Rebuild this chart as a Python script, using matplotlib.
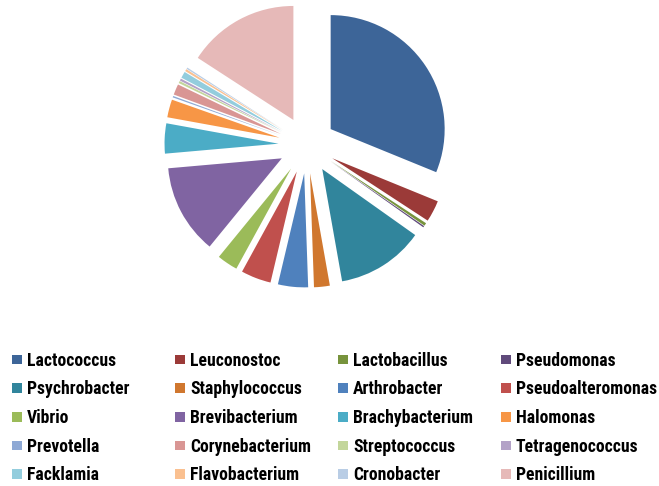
'''pie chart of genus share, exploded slices with a four column legend'''
import matplotlib
matplotlib.use('Agg')
import matplotlib.pyplot as plt
from matplotlib.patches import Patch
from matplotlib import font_manager

genera = ['Lactococcus', 'Leuconostoc', 'Lactobacillus', 'Pseudomonas',
          'Psychrobacter', 'Staphylococcus', 'Arthrobacter', 'Pseudoalteromonas',
          'Vibrio', 'Brevibacterium', 'Brachybacterium', 'Halomonas',
          'Prevotella', 'Corynebacterium', 'Streptococcus', 'Tetragenococcus',
          'Facklamia', 'Flavobacterium', 'Cronobacter', 'Penicillium']
shares = [30.7, 3.0, 0.4, 0.2,
          12.2, 2.2, 4.2, 4.2,
          2.9, 12.5, 4.2, 2.5,
          0.2, 1.5, 0.3, 0.3,
          0.9, 0.3, 0.2, 15.6]
colors = ['#3D6598', '#9B3A38', '#77933C', '#604A7B',
          '#31859C', '#D0772E', '#4F81BD', '#C0504D',
          '#9BBB59', '#8064A2', '#4BACC6', '#F79646',
          '#8EA9D5', '#D99694', '#C3D69B', '#B3A2C7',
          '#93CDDD', '#FAC090', '#B9CDE5', '#E6B9B8']

W, H = 659, 486
cx, cy, r = 307, 145, 114

# look for a narrow bold face, the legend text is condensed
narrow = None
for f in font_manager.fontManager.ttflist:
    fn = f.fname.lower()
    if ('narrow' in fn or 'condensed' in fn) and 'bold' in fn \
            and 'italic' not in fn and 'oblique' not in fn:
        narrow = f.fname
        if 'liberation' in fn:
            break
if narrow:
    size = 12.7
    prop = font_manager.FontProperties(fname=narrow, size=size)
else:
    size = 10.5
    prop = font_manager.FontProperties(family='Liberation Sans', weight='bold', size=size)
px = size * 100 / 72

fig = plt.figure(figsize=(W / 100, H / 100), dpi=100)
ax = fig.add_axes([0, 0, 1, 1])
ax.pie(shares, colors=colors, startangle=90, counterclock=False,
       explode=[0.25] * len(shares), radius=1,
       wedgeprops={'linewidth': 0})
# one data unit = pie radius in pixels
ax.set_xlim(-cx / r, (W - cx) / r)
ax.set_ylim(-(H - cy) / r, cy / r)
ax.set_aspect('auto')
ax.axis('off')

# legend reads row by row, so one legend per column
col_x = [12, 175, 338, 501]
row_h = 1.026 * px
top = 358 - 0.35 * px
for c in range(4):
    idx = [row * 4 + c for row in range(5)]
    handles = [Patch(facecolor=colors[i], edgecolor='none') for i in idx]
    fig.legend(handles, [genera[i] for i in idx], loc='upper left',
               bbox_to_anchor=(col_x[c] / W, 1 - top / H),
               frameon=False, borderpad=0, borderaxespad=0,
               handlelength=10 / px, handleheight=8 / px, handletextpad=5 / px,
               labelspacing=(28.75 - row_h) / px, prop=prop)

fig.savefig('out.png', dpi=100)
